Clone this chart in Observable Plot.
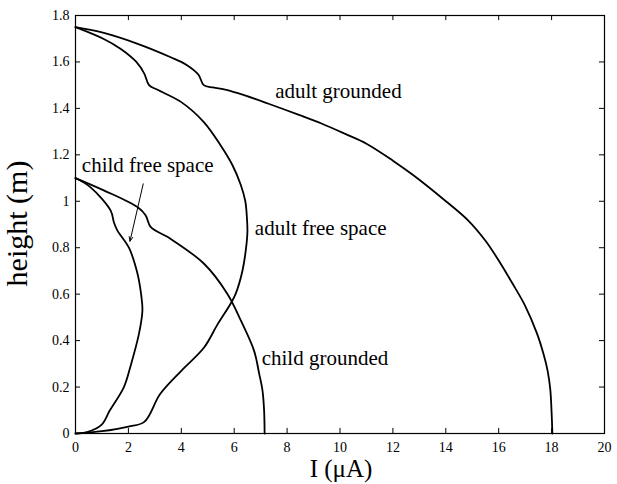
<!DOCTYPE html>
<html><head><meta charset="utf-8">
<script src="https://cdn.jsdelivr.net/npm/d3@7"></script>
<script src="https://cdn.jsdelivr.net/npm/@observablehq/plot@0.6"></script>
<style>body{margin:0;background:#fff}</style>
</head><body><div id="chart"></div>
<script>
// ---- data ----
const adultGroundedI = [0, 1.0, 2.3, 3.6, 4.2, 4.65, 4.85, 5.2, 5.7, 6.4, 7.3, 8.5, 9.3, 10.2, 11.0, 12.0, 12.8, 13.9, 14.85, 15.5, 16.0, 16.5, 17.0, 17.45, 17.7, 17.85, 17.95, 18.0, 18.03];
const adultGroundedH = [1.75, 1.727, 1.68, 1.62, 1.587, 1.545, 1.50, 1.49, 1.48, 1.456, 1.42, 1.37, 1.335, 1.29, 1.248, 1.175, 1.11, 1.01, 0.917, 0.83, 0.745, 0.65, 0.55, 0.43, 0.34, 0.27, 0.19, 0.09, 0];

const adultFreeI = [0, 1.05, 1.7, 2.3, 2.6, 2.78, 3.1, 4.0, 4.86, 5.49, 5.94, 6.25, 6.42, 6.48, 6.5, 6.45, 6.31, 6.05, 5.87, 5.37, 4.86, 4.0, 3.2, 2.6, 2.0, 1.0, 0];
const adultFreeH = [1.75, 1.70, 1.657, 1.60, 1.55, 1.50, 1.48, 1.427, 1.34, 1.24, 1.154, 1.07, 1.0, 0.93, 0.87, 0.80, 0.70, 0.60, 0.56, 0.47, 0.37, 0.27, 0.17, 0.05, 0.03, 0.01, 0];

const childGroundedI = [0, 1.07, 2.34, 2.65, 2.84, 3.6, 4.86, 5.75, 6.25, 6.75, 6.94, 7.07, 7.13, 7.15];
const childGroundedH = [1.1, 1.047, 0.975, 0.94, 0.89, 0.838, 0.731, 0.60, 0.487, 0.357, 0.26, 0.185, 0.10, 0];

const childFreeI = [0, 0.57, 1.33, 1.45, 1.58, 2.02, 2.34, 2.48, 2.53, 2.4, 2.08, 1.83, 1.3, 0.98, 0.44, 0];
const childFreeH = [1.1, 1.06, 0.96, 0.91, 0.875, 0.80, 0.69, 0.60, 0.53, 0.43, 0.29, 0.20, 0.10, 0.037, 0.006, 0];

const xTicks = [0, 2, 4, 6, 8, 10, 12, 14, 16, 18, 20];
const yTicks = [0, 0.2, 0.4, 0.6, 0.8, 1, 1.2, 1.4, 1.6, 1.8];

const labelText = ["adult grounded", "adult free space", "child free space", "child grounded"];
const labelI = [9.94, 9.27, 2.73, 9.43];
const labelH = [1.475, 0.882, 1.154, 0.326];

const arrowFrom = [2.56, 1.075];
const arrowTo = [2.06, 0.828];

const xTitle = "I (μA)";
const yTitle = "height (m)";

// ---- build tables ----
const zip = (xs, ys) => xs.map((x, i) => ({I: x, h: ys[i]}));
const series = [
  zip(adultGroundedI, adultGroundedH),
  zip(adultFreeI, adultFreeH),
  zip(childGroundedI, childGroundedH),
  zip(childFreeI, childFreeH)
];
const labels = labelText.map((t, i) => ({t, I: labelI[i], h: labelH[i]}));

const tickY = 0.022, tickX = 0.19; // inward tick length in data units

const serif = "Liberation Serif, Times New Roman, serif";

const chart = Plot.plot({
  width: 617,
  height: 484,
  marginLeft: 75,
  marginRight: 13,
  marginTop: 15,
  marginBottom: 51,
  style: {fontFamily: serif, fontSize: "14px", color: "black", background: "white"},
  x: {domain: [0, 20]},
  y: {domain: [0, 1.8]},
  marks: [
    Plot.frame({stroke: "black", strokeWidth: 1.2}),
    Plot.ruleX(xTicks, {x: d => d, y1: 0, y2: tickY, stroke: "black"}),
    Plot.ruleX(xTicks, {x: d => d, y1: 1.8 - tickY, y2: 1.8, stroke: "black"}),
    Plot.ruleY(yTicks, {y: d => d, x1: 0, x2: tickX, stroke: "black"}),
    Plot.ruleY(yTicks, {y: d => d, x1: 20 - tickX, x2: 20, stroke: "black"}),
    Plot.axisX({ticks: xTicks, tickSize: 0, tickPadding: 9, tickFormat: d => String(d), label: null}),
    Plot.axisY({ticks: yTicks, tickSize: 0, tickPadding: 6, tickFormat: d => String(d), label: null}),
    ...series.map(s => Plot.line(s, {x: "I", y: "h", curve: "catmull-rom", stroke: "black", strokeWidth: 1.8})),
    Plot.arrow([{}], {x1: () => arrowFrom[0], y1: () => arrowFrom[1], x2: () => arrowTo[0], y2: () => arrowTo[1], stroke: "black", strokeWidth: 1, headLength: 7, headAngle: 45}),
    Plot.text(labels, {x: "I", y: "h", text: "t", fontSize: 21, fontFamily: serif, fill: "black"}),
    Plot.text([yTitle], {frameAnchor: "left", textAnchor: "middle", lineAnchor: "middle", dx: -58, dy: -1, rotate: -90, fontSize: 30, fontFamily: serif, fill: "black"}),
    Plot.text([xTitle], {frameAnchor: "bottom", textAnchor: "middle", lineAnchor: "middle", dx: 1, dy: 35, fontSize: 25, fontFamily: serif, fill: "black"})
  ]
});
document.getElementById("chart").append(chart);
</script>
</body></html>
